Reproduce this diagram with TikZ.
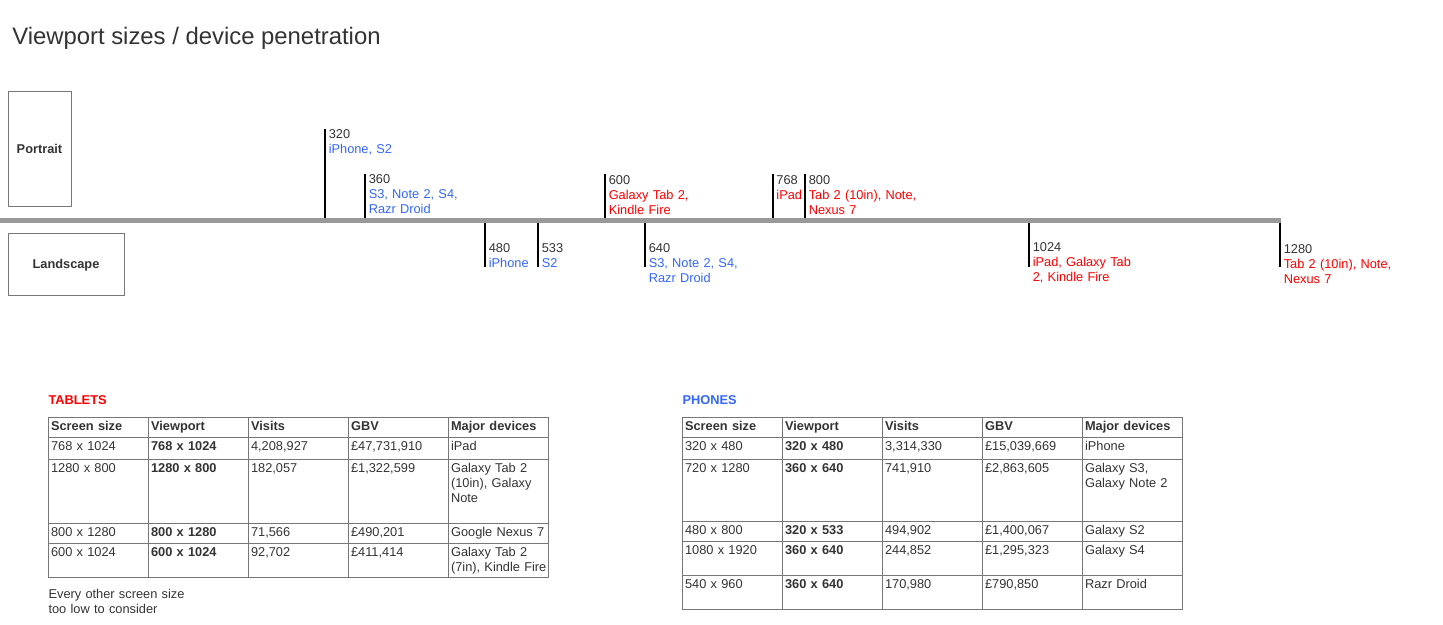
\documentclass[tikz,border=0pt]{standalone}
\usepackage{fontspec}
\setmainfont{Liberation Sans}
\definecolor{txtgray}{HTML}{333333}
\definecolor{phoneblue}{HTML}{3366FF}
\definecolor{tabred}{HTML}{FF0000}
\definecolor{axisgray}{HTML}{999999}
\definecolor{boxgray}{HTML}{777777}
\tikzset{>=stealth,
  lbl/.style={anchor=base west, inner sep=0pt, align=left, text width=100pt,
    text=txtgray, font=\fontsize{9.6}{11.25}\selectfont},
  lblb/.style={lbl, font=\fontsize{9.6}{11.25}\selectfont\bfseries},
  orient/.style={draw=boxgray, line width=0.75pt, inner sep=0pt, text=txtgray,
    text height=6.9pt, text depth=0pt, font=\fontsize{9.6}{11.25}\selectfont\bfseries},
  tick/.style={line width=1.5pt},
  axis/.style={draw=axisgray, line width=3.2pt},
  grid/.style={draw=boxgray, line width=0.75pt},
}

\begin{document}
\begin{tikzpicture}[x=0.75pt, y=-0.75pt]
    \useasboundingbox (0,0) rectangle (1443,625);
    \node[anchor=base west, inner sep=0pt, text=txtgray, font=\fontsize{17.9}{20}\selectfont] (title) at (12,44.3) {Viewport sizes / device penetration};
    % orientation boxes
    \node[orient, minimum width=47.25pt, minimum height=86.25pt] (portrait) at (39.5,148.5) {Portrait};
    \node[orient, minimum width=87pt, minimum height=46.5pt] (landscape) at (66,264) {Landscape};
    % ticks: x / top / bottom / baseline / width / devices / colour
    \foreach \x/\ya/\yb/\yt/\num/\dev/\col in {
        325/129/220/138.5/320/{iPhone, S2}/phoneblue,
        365/174/220/183.5/360/{S3, Note 2, S4,\\Razr Droid}/phoneblue,
        485/221/267/252/480/iPhone/phoneblue,
        538/221/267/252/533/S2/phoneblue,
        605/174/220/184/600/{Galaxy Tab 2,\\Kindle Fire}/tabred,
        645/221/267/252/640/{S3, Note 2, S4,\\Razr Droid}/phoneblue,
        772.7/174/220/184/768/iPad/tabred,
        805/174/220/184/800/{Tab 2 (10in), Note,\\Nexus 7}/tabred,
        1029/221/267/251/1024/{iPad, Galaxy Tab\\2, Kindle Fire}/tabred,
        1280/221/267/253.5/1280/{Tab 2 (10in), Note,\\Nexus 7}/tabred}{
      \draw[tick] (\x,\ya) -- (\x,\yb);
      \node[lbl] (n\num) at (\x+3.5,\yt) {\num};
      \node[lbl, text=\col] (d\num) at (\x+3.5,\yt+15) {\dev};
    }
    \draw[axis] (0,220.5) -- (1281,220.5);
    % tablets
    \node[lblb, text=tabred] (tablets) at (48.3,404) {TABLETS};
    \draw[grid] (48.3,417.3) rectangle (548.3,577.3);
    \foreach \y in {437.3,459,523.3,543.3} \draw[grid] (48.3,\y) -- (548.3,\y);
    \foreach \x in {148.3,248.3,348.3,448.3} \draw[grid] (\x,417.3) -- (\x,577.3);
    \foreach \h [count=\c] in {Screen size,Viewport,Visits,GBV,Major devices}
      \node[lblb] (th\c) at (-49.2+100*\c,430.7) {\h};
    \foreach \y/\a/\b/\c/\d/\e [count=\r] in {
        450.7/768 x 1024/768 x 1024/{4,208,927}/{£47,731,910}/iPad,
        472.3/1280 x 800/1280 x 800/{182,057}/{£1,322,599}/{Galaxy Tab 2\\(10in), Galaxy\\Note},
        536.7/800 x 1280/800 x 1280/{71,566}/{£490,201}/Google Nexus 7,
        556.7/600 x 1024/600 x 1024/{92,702}/{£411,414}/{Galaxy Tab 2\\(7in), Kindle Fire}}{
      \node[lbl] (tt\r a) at (50.8,\y) {\a};
      \node[lblb] (tt\r b) at (150.8,\y) {\b};
      \node[lbl] (tt\r c) at (250.8,\y) {\c};
      \node[lbl] (tt\r d) at (350.8,\y) {\d};
      \node[lbl] (tt\r e) at (450.8,\y) {\e};
    }
    \node[lbl, text width=160pt] (other) at (48.3,598.3) {Every other screen size\\too low to consider};
    % phones
    \node[lblb, text=phoneblue] (phones) at (682.3,404) {PHONES};
    \draw[grid] (682.3,417.3) rectangle (1182.3,609);
    \foreach \y in {437.3,459.3,521.7,541.7,575.3} \draw[grid] (682.3,\y) -- (1182.3,\y);
    \foreach \x in {782.3,882.3,982.3,1082.3} \draw[grid] (\x,417.3) -- (\x,609);
    \foreach \h [count=\c] in {Screen size,Viewport,Visits,GBV,Major devices}
      \node[lblb] (ph\c) at (584.8+100*\c,430.7) {\h};
    \foreach \y/\a/\b/\c/\d/\e [count=\r] in {
        450.7/320 x 480/320 x 480/{3,314,330}/{£15,039,669}/iPhone,
        472.3/720 x 1280/360 x 640/{741,910}/{£2,863,605}/{Galaxy S3,\\Galaxy Note 2},
        534/480 x 800/320 x 533/{494,902}/{£1,400,067}/Galaxy S2,
        554.3/1080 x 1920/360 x 640/{244,852}/{£1,295,323}/Galaxy S4,
        588.3/540 x 960/360 x 640/{170,980}/{£790,850}/Razr Droid}{
      \node[lbl] (pt\r a) at (684.8,\y) {\a};
      \node[lblb] (pt\r b) at (784.8,\y) {\b};
      \node[lbl] (pt\r c) at (884.8,\y) {\c};
      \node[lbl] (pt\r d) at (984.8,\y) {\d};
      \node[lbl] (pt\r e) at (1084.8,\y) {\e};
    }
    \end{tikzpicture}
\end{document}
